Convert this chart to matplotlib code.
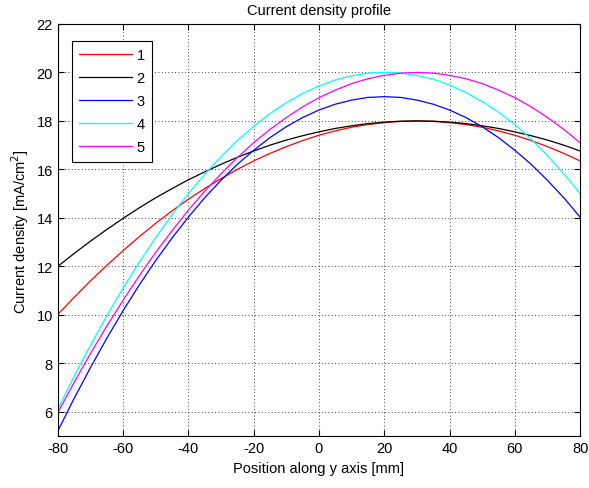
import matplotlib
matplotlib.use('Agg')
import matplotlib.pyplot as plt

plt.rcParams['font.family'] = ['Liberation Sans', 'DejaVu Sans']
plt.rcParams['axes.unicode_minus'] = False

# position along y axis [mm]
x = list(range(-80, 81, 5))

# current density [mA/cm^2]
j1 = [10.01, 10.72, 11.4, 12.04, 12.65, 13.23, 13.78, 14.29, 14.77, 15.21, 15.62, 16.0, 16.35,
      16.66, 16.94, 17.19, 17.41, 17.59, 17.74, 17.85, 17.93, 17.98, 18.0, 17.98, 17.93, 17.85,
      17.74, 17.59, 17.41, 17.19, 16.94, 16.66, 16.35]
j2 = [12.0, 12.53, 13.04, 13.52, 13.98, 14.42, 14.83, 15.21, 15.57, 15.9, 16.21, 16.5, 16.76,
      17.0, 17.21, 17.39, 17.55, 17.69, 17.8, 17.89, 17.95, 17.99, 18.0, 17.99, 17.95, 17.89,
      17.8, 17.69, 17.55, 17.39, 17.21, 17.0, 16.76]
j3 = [5.2, 6.55, 7.82, 9.03, 10.17, 11.24, 12.24, 13.17, 14.03, 14.83, 15.55, 16.21, 16.79,
      17.31, 17.76, 18.14, 18.45, 18.69, 18.86, 18.97, 19.0, 18.97, 18.86, 18.69, 18.45, 18.14,
      17.76, 17.31, 16.79, 16.21, 15.55, 14.83, 14.03]
j4 = [6.1, 7.46, 8.74, 9.96, 11.1, 12.18, 13.19, 14.13, 15.0, 15.8, 16.52, 17.19, 17.78,
      18.3, 18.75, 19.13, 19.44, 19.69, 19.86, 19.97, 20.0, 19.97, 19.88, 19.72, 19.48, 19.17,
      18.8, 18.36, 17.85, 17.25, 16.56, 15.82, 15.0]
j5 = [5.96, 7.21, 8.4, 9.53, 10.6, 11.62, 12.58, 13.47, 14.32, 15.1, 15.82, 16.49, 17.1,
      17.65, 18.14, 18.58, 18.96, 19.27, 19.54, 19.74, 19.88, 19.97, 20.0, 19.97, 19.88, 19.74,
      19.54, 19.27, 18.96, 18.58, 18.14, 17.65, 17.1]

series = [j1, j2, j3, j4, j5]
labels = ['1', '2', '3', '4', '5']
colors = ['#ff0000', '#000000', '#0000ff', '#00ffff', '#ff00ff']

fig = plt.figure(figsize=(5.89, 4.89), dpi=100)
ax = fig.add_axes([0.098, 0.106, 0.887, 0.843])

for y, lab, c in zip(series, labels, colors):
    ax.plot(x, y, color=c, lw=0.9, label=lab)

ax.set_xlim(-80, 80)
ax.set_ylim(5, 22)
ax.set_xticks(range(-80, 81, 20))
ax.set_yticks(range(6, 23, 2))
ax.grid(True, color='k', linestyle=(0, (1, 3)), linewidth=0.6)
ax.tick_params(direction='in', top=True, right=True, labelsize=10.5, length=4)
for s in ax.spines.values():
    s.set_linewidth(0.8)

ax.set_title('Current density profile', fontsize=10.5, pad=7)
ax.set_xlabel('Position along y axis [mm]', fontsize=10.5)
ax.set_ylabel('Current density [mA/cm$^2$]', fontsize=10.5)

leg = ax.legend(loc='upper left', bbox_to_anchor=(0.027, 0.959), fancybox=False,
                edgecolor='k', framealpha=1, fontsize=10.5, handlelength=3.6,
                handletextpad=0.35, labelspacing=0.62, borderpad=0.5, borderaxespad=0)
leg.get_frame().set_linewidth(0.8)

fig.savefig('out.png', dpi=100)
